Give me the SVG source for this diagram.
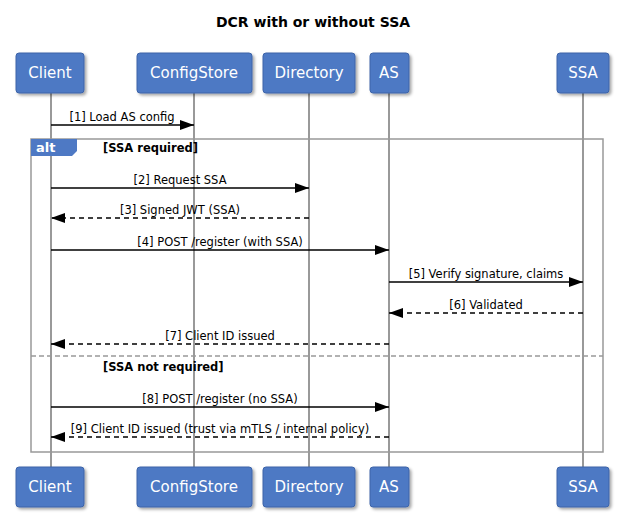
<svg xmlns="http://www.w3.org/2000/svg" width="627" height="518" viewBox="0 0 627 518">
<defs>
<marker id="ah" markerWidth="14" markerHeight="10" refX="14" refY="5" orient="auto" markerUnits="userSpaceOnUse"><path d="M0,0 L14,5 L0,10 Z" fill="#000"/></marker>
<filter id="sh" x="-20%" y="-20%" width="150%" height="150%"><feDropShadow dx="2" dy="2" stdDeviation="1.5" flood-color="#000" flood-opacity="0.35"/></filter>
</defs>
<style>
text{font-family:"DejaVu Sans","Liberation Sans",sans-serif}
.box{fill:#4e79c4;stroke:#3c64a8;stroke-width:1;filter:url(#sh)}
.bt{fill:#fff;font-size:15px;text-anchor:middle}
.life{stroke:#999;stroke-width:2}
.m{stroke:#000;stroke-width:1.5;fill:none;marker-end:url(#ah)}
.d{stroke-dasharray:5,4}
.lbl{font-size:11.5px;text-anchor:middle;fill:#000}
.g{font-size:11.5px;font-weight:bold;fill:#000}
</style>
<rect width="627" height="518" fill="#fff"/>
<text x="313" y="27" font-size="14" font-weight="bold" text-anchor="middle">DCR with or without SSA</text>
<g id="lifelines">
<line class="life" x1="51" y1="93" x2="51" y2="467"/>
<line class="life" x1="194" y1="93" x2="194" y2="467"/>
<line class="life" x1="309" y1="93" x2="309" y2="467"/>
<line class="life" x1="389" y1="93" x2="389" y2="467"/>
<line class="life" x1="583" y1="93" x2="583" y2="467"/>
</g>
<g id="alt">
<rect x="31" y="139" width="572" height="313" fill="none" stroke="#999" stroke-width="1.5"/>
<path d="M31,139 H77 V151 L72,156 H31 Z" fill="#4e79c4"/>
<text x="36" y="152" fill="#fff" font-size="13" font-weight="bold">alt</text>
<text class="g" x="103" y="152">[SSA required]</text>
<line x1="31" y1="356" x2="603" y2="356" stroke="#999" stroke-width="1.5" stroke-dasharray="5,3"/>
<text class="g" x="103" y="371">[SSA not required]</text>
</g>
<g id="connectors">
<line class="m" x1="51" y1="125" x2="194" y2="125"/><text class="lbl" x="122" y="121">[1] Load AS config</text>
<line class="m" x1="51" y1="188" x2="309" y2="188"/><text class="lbl" x="180" y="184">[2] Request SSA</text>
<line class="m d" x1="309" y1="218" x2="51" y2="218"/><text class="lbl" x="180" y="214">[3] Signed JWT (SSA)</text>
<line class="m" x1="51" y1="250" x2="389" y2="250"/><text class="lbl" x="220" y="246">[4] POST /register (with SSA)</text>
<line class="m" x1="389" y1="282" x2="583" y2="282"/><text class="lbl" x="486" y="278">[5] Verify signature, claims</text>
<line class="m d" x1="583" y1="313" x2="389" y2="313"/><text class="lbl" x="486" y="309">[6] Validated</text>
<line class="m d" x1="389" y1="344" x2="51" y2="344"/><text class="lbl" x="220" y="340">[7] Client ID issued</text>
<line class="m" x1="51" y1="407" x2="389" y2="407"/><text class="lbl" x="220" y="403">[8] POST /register (no SSA)</text>
<line class="m d" x1="389" y1="437" x2="51" y2="437"/><text class="lbl" x="220" y="433">[9] Client ID issued (trust via mTLS / internal policy)</text>
</g>
<g id="Client"><rect class="box" x="16" y="53" width="68" height="40" rx="3"/><text class="bt" x="50" y="78">Client</text>
<rect class="box" x="16" y="467" width="68" height="40" rx="3"/><text class="bt" x="50" y="492">Client</text></g>
<g id="ConfigStore"><rect class="box" x="137" y="53" width="115" height="40" rx="3"/><text class="bt" x="194" y="78">ConfigStore</text>
<rect class="box" x="137" y="467" width="115" height="40" rx="3"/><text class="bt" x="194" y="492">ConfigStore</text></g>
<g id="Directory"><rect class="box" x="263" y="53" width="92" height="40" rx="3"/><text class="bt" x="309" y="78">Directory</text>
<rect class="box" x="263" y="467" width="92" height="40" rx="3"/><text class="bt" x="309" y="492">Directory</text></g>
<g id="AS"><rect class="box" x="370" y="53" width="39" height="40" rx="3"/><text class="bt" x="389" y="78">AS</text>
<rect class="box" x="370" y="467" width="39" height="40" rx="3"/><text class="bt" x="389" y="492">AS</text></g>
<g id="SSA"><rect class="box" x="557" y="53" width="52" height="40" rx="3"/><text class="bt" x="583" y="78">SSA</text>
<rect class="box" x="557" y="467" width="52" height="40" rx="3"/><text class="bt" x="583" y="492">SSA</text></g>
</svg>
